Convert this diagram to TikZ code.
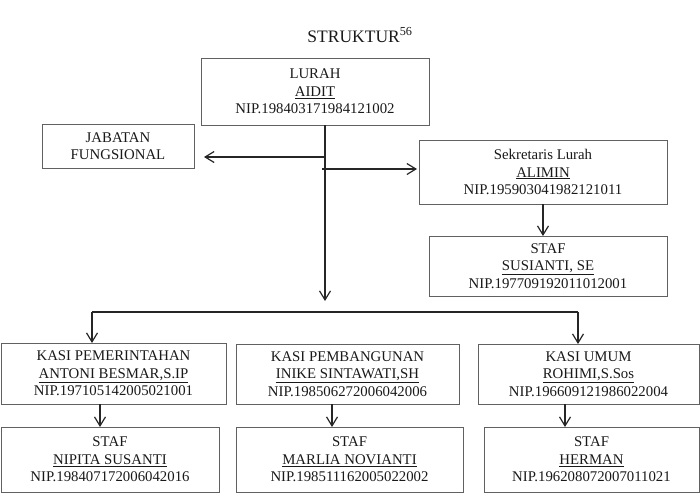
\documentclass[tikz,border=0pt]{standalone}
\usepackage{fontspec}
\setmainfont{Liberation Serif}
\usetikzlibrary{arrows.meta,calc}
\newcommand\boxfont{\fontsize{14.8}{17.6}\selectfont}
\tikzset{
  box/.style={draw=black!62, line width=1pt, align=center, inner sep=0pt, outer sep=0pt, font=\boxfont, text=black!90},
  arr/.style={draw=black!85, line width=1.3pt, -{Straight Barb[length=9pt,width=11pt,line width=1.2pt]}},
  ln/.style={draw=black!85, line width=1.3pt}
}
\begin{document}
\begin{tikzpicture}[x=1pt,y=-1pt]
\useasboundingbox (0,0) rectangle (700,501);
\node[anchor=base, font=\fontsize{17.5}{20}\selectfont, text=black!90] (title) at (360,42) {STRUKTUR\textsuperscript{56}};

\node[box, minimum width=228pt, minimum height=67pt] (lurah) at (315,91.5) {LURAH\\\underline{AIDIT}\\NIP.198403171984121002};
\node[box, minimum width=152pt, minimum height=44pt] (jab) at (118,146) {JABATAN\\FUNGSIONAL};
\node[box, minimum width=248pt, minimum height=64pt] (sek) at (543,172) {Sekretaris Lurah\\\underline{ALIMIN}\\NIP.195903041982121011};
\node[box, minimum width=238pt, minimum height=60pt] (staf0) at (548,266) {STAF\\\underline{SUSIANTI, SE}\\NIP.197709192011012001};

\node[box, minimum width=225pt, minimum height=61pt] (k1) at (113.5,373.5) {KASI PEMERINTAHAN\\\underline{ANTONI BESMAR,S.IP}\\NIP.197105142005021001};
\node[box, minimum width=223pt, minimum height=60pt] (k2) at (347.5,374) {KASI PEMBANGUNAN\\\underline{INIKE SINTAWATI,SH}\\NIP.198506272006042006};
\node[box, minimum width=221pt, minimum height=60pt] (k3) at (588.5,374) {KASI UMUM\\\underline{ROHIMI,S.Sos}\\NIP.196609121986022004};

\node[box, minimum width=218pt, minimum height=65pt] (s1) at (110,459.5) {STAF\\\underline{NIPITA SUSANTI}\\NIP.198407172006042016};
\node[box, minimum width=227pt, minimum height=65pt] (s2) at (349.5,459.5) {STAF\\\underline{MARLIA NOVIANTI}\\NIP.198511162005022002};
\node[box, minimum width=215pt, minimum height=65pt] (s3) at (591.5,459.5) {STAF\\\underline{HERMAN}\\NIP.196208072007011021};

% junctions
\coordinate (top) at ([xshift=10pt]lurah.south);
\coordinate (jl) at (325,157);
\coordinate (jr) at (322,169);
\coordinate (mend) at (325,301);
\coordinate (hl) at (92,312);
\coordinate (hr) at (578,312);

\draw[arr] (top) -- (mend);
\draw[arr, shorten >=10pt] (jl) -- (jl -| jab.east);
\draw[arr, shorten >=2pt] (jr) -- (jr -| sek.west);
\draw[arr] (sek.south) -- (sek.south |- staf0.north);

\draw[ln] (hl) -- (hr);
\draw[arr] (hl) -- (hl |- k1.north);
\draw[arr] (hr) -- (hr |- k3.north);

\draw[arr] ([xshift=-13.5pt]k1.south) -- ([xshift=-13.5pt]k1.south |- s1.north);
\draw[arr] ([xshift=-15.5pt]k2.south) -- ([xshift=-15.5pt]k2.south |- s2.north);
\draw[arr] ([xshift=-23.5pt]k3.south) -- ([xshift=-23.5pt]k3.south |- s3.north);
\end{tikzpicture}
\end{document}
